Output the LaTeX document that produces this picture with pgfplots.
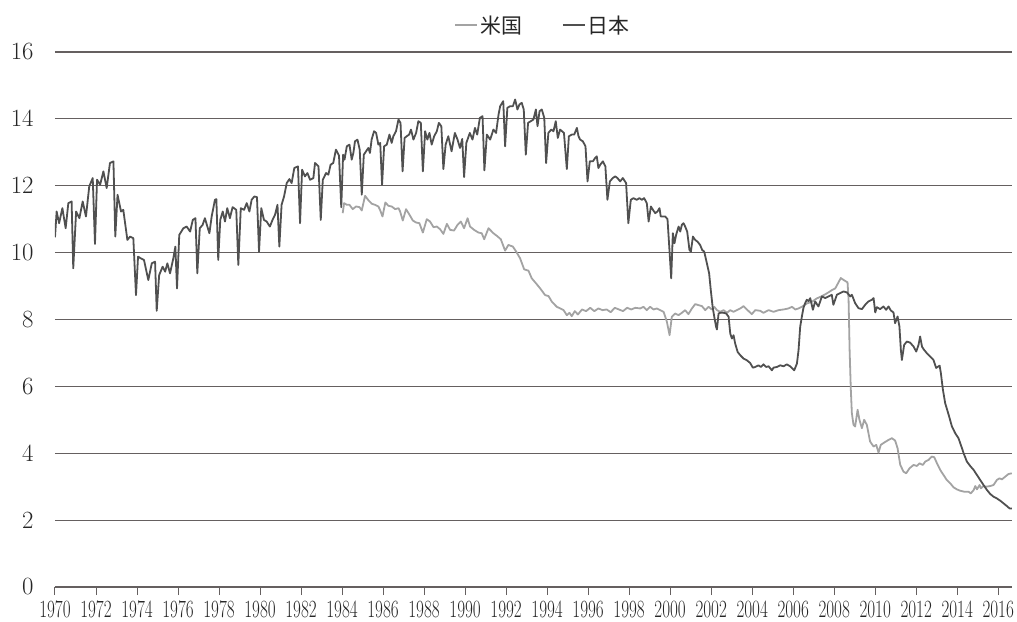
\documentclass[border=0pt]{standalone}
\usepackage{graphicx}
\usepackage{fontspec}
\newfontfamily\cjk{Noto Sans CJK JP}
\usepackage{pgfplots}
\pgfplotsset{compat=1.18}
\definecolor{jpcol}{HTML}{505050}
\definecolor{uscol}{HTML}{A3A3A3}
\definecolor{gridcol}{HTML}{656060}
\begin{document}
\begin{tikzpicture}
\useasboundingbox (-55bp,-35bp) rectangle (962bp,587bp);
\begin{axis}[
  at={(0,0)}, anchor=south west,
  scale only axis, width=957bp, height=535bp,
  xmin=1970, xmax=2016.67, ymin=0, ymax=16,
  axis line style={draw=none},
  ytick={0,2,...,16},
  ymajorgrids=true,
  grid style={gridcol, line width=1.1bp},
  ytick style={draw=none},
  xtick={1970,1972,...,2016},
  xtick pos=bottom,
  tick align=outside,
  major tick length=8bp,
  xtick style={gridcol, line width=1bp},
  yticklabel style={font=\fontsize{23}{23}\selectfont, text=black!85, xshift=-10bp},
  xticklabel style={font=\fontsize{23}{23}\selectfont, text=black!85, yshift=-3bp},
  xticklabel={\scalebox{0.69}[1]{$\pgfmathprintnumber[1000 sep={}]{\tick}$}},
  legend columns=2,
  legend style={draw=none, fill=none, at={(0.51,1)}, anchor=south, yshift=13bp,
    font=\cjk\fontsize{21}{21}\selectfont, text=black!85,
    /tikz/every even column/.append style={column sep=38bp}},
  legend image code/.code={\draw[#1] (0bp,0bp) -- (22bp,0bp);},
  every axis plot/.append style={line width=1.8bp, line join=round},
]
\addplot[uscol, mark=none] coordinates {
(1984.03,11.18)(1984.10,11.48)(1984.23,11.43)(1984.36,11.43)(1984.52,11.3)(1984.68,11.38)(1984.85,11.36)(1984.96,11.26)
(1985.12,11.7)(1985.29,11.56)(1985.45,11.46)(1985.61,11.43)(1985.77,11.38)(1985.85,11.28)(1985.97,11.08)
(1986.11,11.5)(1986.26,11.4)(1986.42,11.38)(1986.59,11.3)(1986.75,11.33)(1986.83,11.23)(1986.96,10.96)
(1987.12,11.3)(1987.29,11.13)(1987.45,10.96)(1987.61,10.9)(1987.77,10.88)(1987.94,10.6)
(1988.13,11.0)(1988.29,10.93)(1988.46,10.76)(1988.62,10.78)(1988.78,10.7)(1988.94,10.56)
(1989.11,10.86)(1989.27,10.68)(1989.46,10.66)(1989.63,10.83)(1989.79,10.93)(1989.95,10.73)
(1990.12,11.03)(1990.24,10.78)(1990.44,10.68)(1990.65,10.6)(1990.81,10.58)(1990.93,10.4)
(1991.14,10.73)(1991.38,10.58)(1991.55,10.5)(1991.74,10.4)(1991.95,10.06)
(1992.11,10.23)(1992.33,10.18)(1992.49,10.03)(1992.68,9.83)(1992.88,9.5)
(1993.09,9.46)(1993.25,9.23)(1993.46,9.08)(1993.66,8.93)(1993.90,8.73)
(1994.07,8.7)(1994.23,8.53)(1994.47,8.38)(1994.64,8.33)(1994.80,8.28)(1994.96,8.13)
(1995.09,8.2)(1995.2,8.1)(1995.35,8.25)(1995.5,8.15)(1995.7,8.3)(1995.9,8.25)
(1996.1,8.35)(1996.3,8.25)(1996.5,8.33)(1996.7,8.28)(1996.9,8.3)
(1997.1,8.22)(1997.3,8.35)(1997.5,8.3)(1997.7,8.25)(1997.9,8.35)
(1998.1,8.3)(1998.3,8.35)(1998.54,8.33)(1998.70,8.38)(1998.86,8.28)
(1999.02,8.38)(1999.19,8.3)(1999.35,8.33)(1999.51,8.28)(1999.68,8.23)(1999.84,7.93)(1999.97,7.53)
(2000.08,8.08)(2000.24,8.18)(2000.41,8.13)(2000.57,8.2)(2000.73,8.28)(2000.89,8.16)
(2001.06,8.33)(2001.22,8.46)(2001.38,8.43)(2001.55,8.4)(2001.71,8.28)(2001.87,8.38)
(2002.03,8.3)(2002.15,8.38)(2002.28,8.28)(2002.44,8.23)(2002.60,8.28)(2002.77,8.2)(2002.93,8.28)
(2003.09,8.23)(2003.25,8.28)(2003.42,8.33)(2003.58,8.4)(2003.74,8.3)(2003.98,8.16)
(2004.15,8.28)(2004.39,8.26)(2004.55,8.2)(2004.80,8.28)
(2005.04,8.23)(2005.29,8.28)(2005.53,8.3)(2005.77,8.33)(2005.94,8.38)
(2006.10,8.3)(2006.26,8.33)(2006.42,8.38)(2006.67,8.48)(2006.91,8.53)
(2007.15,8.63)(2007.40,8.7)(2007.64,8.78)(2007.89,8.88)
(2008.05,8.93)(2008.20,9.1)(2008.32,9.24)(2008.49,9.17)(2008.65,9.11)(2008.70,8.59)(2008.75,7.09)(2008.81,5.9)(2008.86,5.2)(2008.94,4.85)
(2009.02,4.8)(2009.14,5.3)(2009.23,5.0)(2009.35,4.75)(2009.46,5.0)(2009.59,4.85)(2009.75,4.35)(2009.92,4.2)
(2010.05,4.25)(2010.16,4.02)(2010.27,4.25)(2010.44,4.32)(2010.65,4.4)(2010.81,4.45)(2010.97,4.38)
(2011.09,4.15)(2011.22,3.65)(2011.38,3.45)(2011.51,3.4)(2011.67,3.55)(2011.87,3.65)
(2012.03,3.62)(2012.16,3.7)(2012.32,3.65)(2012.44,3.75)(2012.60,3.8)(2012.76,3.9)(2012.88,3.88)
(2013.01,3.7)(2013.17,3.5)(2013.33,3.35)(2013.49,3.2)(2013.66,3.1)(2013.82,2.98)(2013.98,2.92)
(2014.14,2.88)(2014.34,2.85)(2014.55,2.85)(2014.66,2.8)(2014.80,2.9)(2014.88,3.02)(2014.96,2.92)
(2015.09,3.05)(2015.15,2.95)(2015.28,3.02)(2015.41,3.0)(2015.61,3.02)(2015.77,3.05)(2015.93,3.2)
(2016.06,3.25)(2016.18,3.22)(2016.34,3.3)(2016.50,3.38)(2016.66,3.4)
};
\addlegendentry{米国}
\addplot[jpcol, mark=none] coordinates {
(1970.00,10.46)(1970.08,11.23)(1970.20,10.88)(1970.36,11.33)(1970.52,10.73)(1970.65,11.48)(1970.81,11.53)(1970.89,9.53)
(1971.03,11.23)(1971.19,11.03)(1971.35,11.53)(1971.51,11.08)(1971.67,11.98)(1971.84,12.23)(1971.95,10.26)
(1972.05,12.18)(1972.20,12.03)(1972.36,12.43)(1972.52,11.93)(1972.68,12.68)(1972.85,12.73)(1972.94,10.48)
(1973.05,11.73)(1973.22,11.23)(1973.33,11.28)(1973.53,10.38)(1973.66,10.48)(1973.82,10.43)(1973.95,8.73)
(1974.05,9.88)(1974.18,9.83)(1974.34,9.78)(1974.55,9.18)(1974.72,9.68)(1974.88,9.73)(1974.96,8.26)
(1975.08,9.33)(1975.25,9.58)(1975.37,9.43)(1975.48,9.68)(1975.61,9.38)(1975.77,9.83)(1975.87,10.18)(1975.95,8.93)
(1976.06,10.53)(1976.26,10.73)(1976.42,10.78)(1976.59,10.63)(1976.72,10.98)(1976.85,11.03)(1976.94,9.38)
(1977.06,10.73)(1977.20,10.83)(1977.31,11.03)(1977.43,10.78)(1977.53,10.58)(1977.64,11.08)(1977.80,11.58)(1977.87,11.6)(1977.96,9.78)
(1978.06,10.98)(1978.18,11.23)(1978.29,10.93)(1978.40,11.33)(1978.53,11.03)(1978.66,11.36)(1978.84,11.28)(1978.94,9.63)
(1979.06,11.33)(1979.22,11.28)(1979.35,11.48)(1979.48,11.23)(1979.59,11.58)(1979.72,11.68)(1979.85,11.66)(1979.95,10.03)
(1980.06,11.33)(1980.19,10.98)(1980.32,10.93)(1980.48,10.78)(1980.61,10.98)(1980.73,11.13)(1980.85,11.43)(1980.94,10.18)
(1981.05,11.43)(1981.17,11.68)(1981.30,12.08)(1981.43,12.2)(1981.54,12.08)(1981.67,12.53)(1981.85,12.58)(1981.95,10.88)
(1982.05,12.48)(1982.19,12.28)(1982.31,12.38)(1982.44,12.18)(1982.60,12.23)(1982.68,12.68)(1982.85,12.58)(1982.96,10.98)
(1983.06,12.18)(1983.22,12.38)(1983.33,12.33)(1983.44,12.63)(1983.57,12.68)(1983.70,13.08)(1983.85,12.9)(1983.96,11.36)
(1984.05,12.93)(1984.12,12.78)(1984.23,13.18)(1984.36,13.23)(1984.47,12.78)(1984.55,12.98)(1984.63,13.33)(1984.75,13.38)(1984.86,13.08)(1984.96,11.73)
(1985.06,12.93)(1985.17,13.03)(1985.28,13.13)(1985.36,12.98)(1985.44,13.38)(1985.56,13.63)(1985.66,13.58)(1985.77,13.23)(1985.86,13.28)(1985.95,12.03)
(1986.05,13.18)(1986.18,13.23)(1986.31,13.53)(1986.42,13.28)(1986.50,13.48)(1986.63,13.63)(1986.75,13.98)(1986.85,13.88)(1986.95,12.43)
(1987.05,13.43)(1987.15,13.48)(1987.27,13.53)(1987.36,13.68)(1987.48,13.38)(1987.61,13.58)(1987.72,13.93)(1987.84,13.88)(1987.94,12.43)
(1988.05,13.63)(1988.16,13.38)(1988.26,13.58)(1988.37,13.23)(1988.49,13.48)(1988.62,13.63)(1988.72,13.88)(1988.84,13.78)(1988.94,12.5)
(1989.05,13.23)(1989.18,13.48)(1989.34,13.03)(1989.50,13.58)(1989.63,13.38)(1989.75,13.13)(1989.86,13.4)(1989.95,12.26)
(1990.06,13.28)(1990.23,13.58)(1990.36,13.38)(1990.48,13.73)(1990.59,13.53)(1990.72,14.03)(1990.85,14.08)(1990.94,12.46)
(1991.06,13.53)(1991.22,13.38)(1991.38,13.68)(1991.51,13.58)(1991.63,14.13)(1991.71,14.38)(1991.86,14.53)(1991.95,13.18)
(1992.06,14.33)(1992.20,14.38)(1992.33,14.38)(1992.44,14.58)(1992.55,14.28)(1992.65,14.43)(1992.76,14.48)(1992.86,14.28)(1992.96,12.93)
(1993.07,13.88)(1993.20,13.93)(1993.33,13.98)(1993.45,14.28)(1993.53,13.78)(1993.63,14.23)(1993.74,14.28)(1993.86,14.03)(1993.95,12.68)
(1994.06,13.58)(1994.20,13.68)(1994.31,13.63)(1994.42,13.93)(1994.52,13.43)(1994.63,13.68)(1994.82,13.58)(1994.96,12.5)
(1995.06,13.48)(1995.20,13.53)(1995.32,13.53)(1995.45,13.73)(1995.53,13.48)(1995.61,13.38)(1995.74,13.33)(1995.87,13.18)(1995.97,12.13)
(1996.08,12.73)(1996.23,12.73)(1996.34,12.83)(1996.42,12.88)(1996.50,12.53)(1996.59,12.63)(1996.72,12.73)(1996.84,12.58)(1996.94,11.58)
(1997.06,12.13)(1997.20,12.23)(1997.32,12.28)(1997.43,12.23)(1997.56,12.13)(1997.69,12.23)(1997.85,12.08)(1997.96,10.88)
(1998.08,11.58)(1998.21,11.63)(1998.37,11.58)(1998.50,11.63)(1998.62,11.58)(1998.73,11.63)(1998.86,11.48)(1998.95,10.93)
(1999.06,11.38)(1999.16,11.28)(1999.27,11.18)(1999.38,11.23)(1999.48,11.33)(1999.54,11.08)(1999.64,11.08)(1999.76,11.08)(1999.87,11.0)(1999.97,10.03)(2000.05,9.23)
(2000.13,10.58)(2000.21,10.28)(2000.29,10.53)(2000.41,10.78)(2000.49,10.63)(2000.57,10.83)(2000.65,10.88)(2000.73,10.78)(2000.83,10.63)(2000.94,10.08)(2001.01,10.03)
(2001.11,10.48)(2001.22,10.38)(2001.33,10.33)(2001.46,10.23)(2001.56,10.08)(2001.66,10.03)(2001.79,9.68)(2001.90,9.38)(2001.98,8.88)
(2002.07,8.38)(2002.15,8.08)(2002.24,7.78)(2002.28,7.7)(2002.36,8.18)(2002.44,8.2)(2002.60,8.2)(2002.73,8.18)(2002.85,8.08)(2002.93,7.58)
(2003.01,7.43)(2003.09,7.53)(2003.17,7.28)(2003.29,7.03)(2003.42,6.93)(2003.58,6.83)(2003.74,6.78)(2003.90,6.7)
(2004.03,6.56)(2004.15,6.58)(2004.31,6.63)(2004.42,6.58)(2004.55,6.66)(2004.68,6.58)(2004.80,6.6)(2004.96,6.48)
(2005.04,6.56)(2005.20,6.58)(2005.37,6.63)(2005.53,6.6)(2005.69,6.66)(2005.85,6.6)
(2006.05,6.48)(2006.18,6.68)(2006.26,7.08)(2006.34,7.78)(2006.42,8.08)(2006.50,8.35)(2006.59,8.5)(2006.66,8.59)(2006.75,8.55)(2006.83,8.64)(2006.96,8.29)
(2007.07,8.54)(2007.23,8.39)(2007.40,8.69)(2007.56,8.64)(2007.72,8.69)(2007.88,8.74)(2007.96,8.44)
(2008.13,8.74)(2008.29,8.79)(2008.45,8.84)(2008.62,8.81)(2008.78,8.69)(2008.86,8.74)
(2009.02,8.49)(2009.18,8.34)(2009.35,8.31)(2009.51,8.44)(2009.67,8.54)(2009.84,8.59)(2009.92,8.64)
(2010.00,8.21)(2010.08,8.37)(2010.24,8.31)(2010.40,8.39)(2010.53,8.29)(2010.65,8.39)(2010.76,8.27)(2010.89,8.21)(2010.97,7.89)
(2011.09,8.09)(2011.18,7.79)(2011.25,7.09)(2011.30,6.79)(2011.41,7.24)(2011.54,7.34)(2011.70,7.31)(2011.87,7.19)
(2012.00,7.04)(2012.11,7.24)(2012.19,7.49)(2012.28,7.19)(2012.36,7.11)(2012.52,6.99)(2012.68,6.89)(2012.84,6.79)(2012.97,6.55)
(2013.14,6.62)(2013.20,6.4)(2013.30,5.9)(2013.41,5.5)(2013.58,5.15)(2013.74,4.8)(2013.90,4.6)
(2014.06,4.45)(2014.23,4.15)(2014.31,4.0)(2014.47,3.75)(2014.63,3.62)(2014.80,3.5)(2014.96,3.35)
(2015.12,3.2)(2015.28,3.05)(2015.45,2.9)(2015.61,2.78)(2015.77,2.7)(2015.93,2.65)
(2016.10,2.58)(2016.26,2.5)(2016.42,2.42)(2016.55,2.35)(2016.66,2.35)
};
\addlegendentry{日本}
\end{axis}
\end{tikzpicture}
\end{document}
